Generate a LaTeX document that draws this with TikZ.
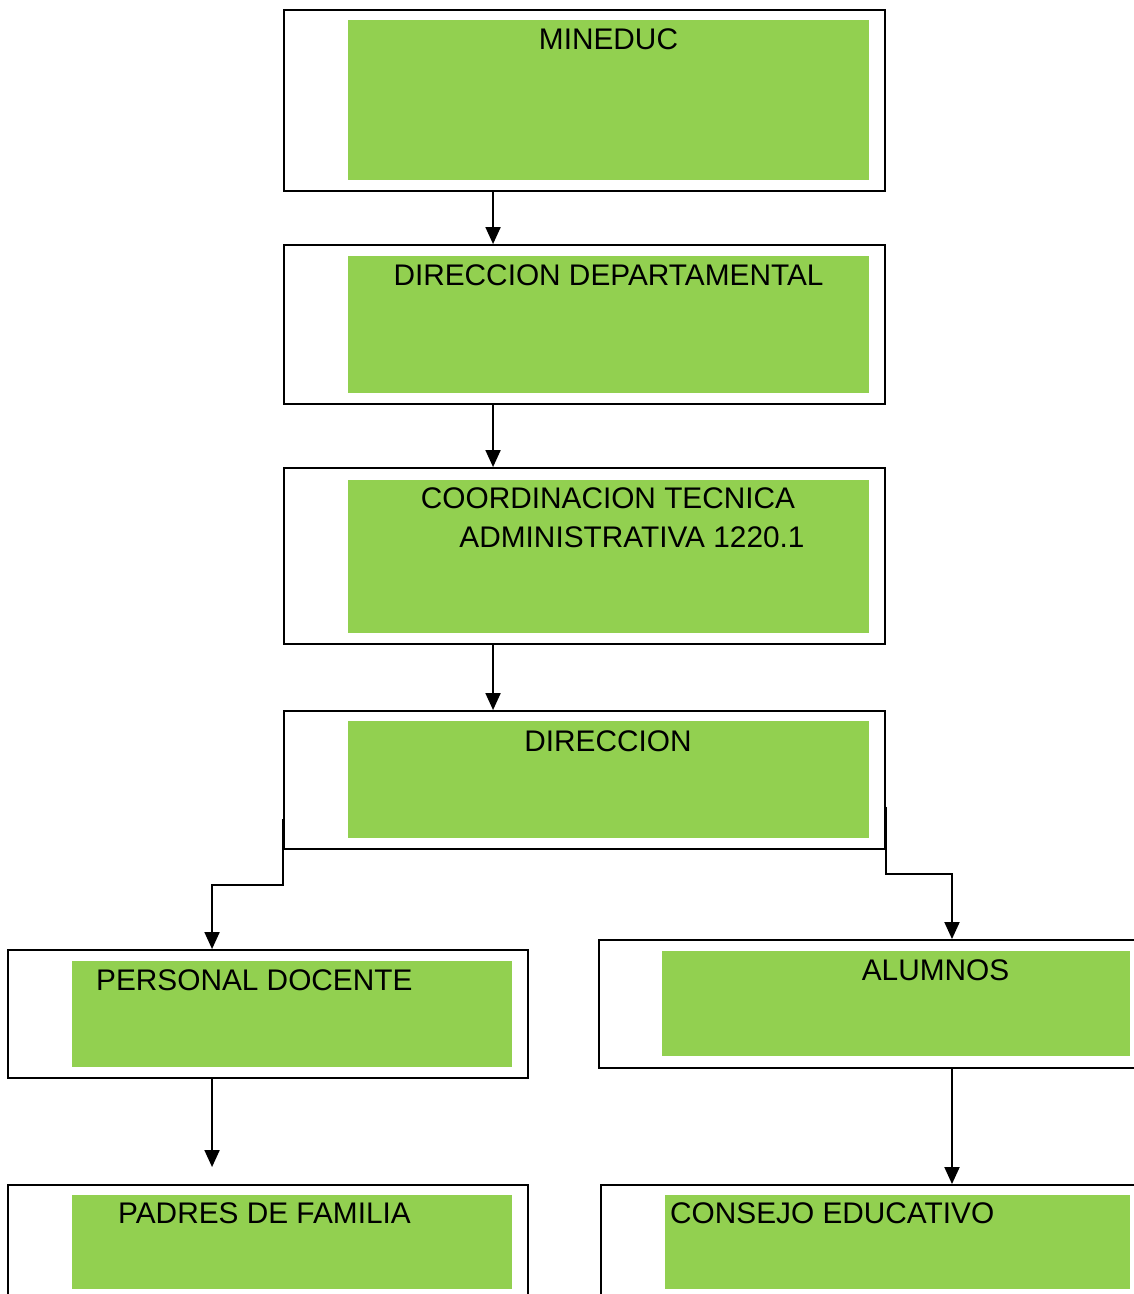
\documentclass[tikz,border=0pt]{standalone}
\usepackage{fontspec}
\setmainfont{Liberation Sans}
\usetikzlibrary{arrows.meta,calc}
\definecolor{grn}{RGB}{146,208,80}
\tikzset{
  obox/.style={draw=black, line width=1.9pt, rectangle, inner sep=0pt, fill=white},
  gbox/.style={fill=grn, rectangle, inner sep=0pt, draw=none},
  lbl/.style={inner sep=0pt, font=\fontsize{29.8}{35}\selectfont},
  conn/.style={line width=1.9pt},
  arr/.style={line width=1.9pt, -{Triangle[length=17pt,width=15pt]}}
}
\begin{document}
\begin{tikzpicture}[x=1pt,y=-1pt]
\useasboundingbox (0,0) rectangle (1134,1294);
\clip (0,0) rectangle (1134,1294);
% outer boxes
\node[obox, minimum width=601pt, minimum height=181pt] (b1) at (584.5,100.5) {};
\node[obox, minimum width=601pt, minimum height=159pt] (b2) at (584.5,324.5) {};
\node[obox, minimum width=601pt, minimum height=176pt] (b3) at (584.5,556) {};
\node[obox, minimum width=601pt, minimum height=138pt] (b4) at (584.5,780) {};
\node[obox, minimum width=520pt, minimum height=128pt] (b5) at (268,1014) {};
\node[obox, minimum width=706pt, minimum height=128pt] (b6) at (952,1004) {};
\node[obox, minimum width=520pt, minimum height=160pt] (b7) at (268,1265) {};
\node[obox, minimum width=702pt, minimum height=160pt] (b8) at (952,1265) {};
% green panels
\node[gbox, minimum width=521pt, minimum height=160pt] (g1) at (608.5,100) {};
\node[gbox, minimum width=521pt, minimum height=137pt] (g2) at (608.5,324.5) {};
\node[gbox, minimum width=521pt, minimum height=153pt] (g3) at (608.5,556.5) {};
\node[gbox, minimum width=521pt, minimum height=117pt] (g4) at (608.5,779.5) {};
\node[gbox, minimum width=440pt, minimum height=106pt] (g5) at (292,1014) {};
\node[gbox, minimum width=468pt, minimum height=105pt] (g6) at (896,1003.5) {};
\node[gbox, minimum width=440pt, minimum height=94pt] (g7) at (292,1242) {};
\node[gbox, minimum width=465pt, minimum height=94pt] (g8) at (897.5,1242) {};
% labels
\node[lbl, anchor=base] (t1) at (608.5,49) {MINEDUC};
\node[lbl, anchor=base] (t2) at (608.5,285) {DIRECCION DEPARTAMENTAL};
\node[lbl, anchor=base] (t3a) at (608,508) {COORDINACION TECNICA};
\node[lbl, anchor=base] (t3b) at (632,547) {ADMINISTRATIVA 1220.1};
\node[lbl, anchor=base] (t4) at (608,751) {DIRECCION};
\node[lbl, anchor=base west] (t5) at (96,990) {PERSONAL DOCENTE};
\node[lbl, anchor=base] (t6) at (935.5,980) {ALUMNOS};
\node[lbl, anchor=base west] (t7) at (118,1223) {PADRES DE FAMILIA};
\node[lbl, anchor=base west] (t8) at (670,1223) {CONSEJO EDUCATIVO};
% connectors
\draw[arr] ($(b1.south west)+(210,0)$) -- ($(b2.north west)+(210,0)$);
\draw[arr] ($(b2.south west)+(210,0)$) -- ($(b3.north west)+(210,0)$);
\draw[arr] ($(b3.south west)+(210,0)$) -- ($(b4.north west)+(210,0)$);
\draw[arr] ($(b4.south west)+(0,-31)$) -- ++(0,66) -| ($(b5.north west)+(205,0)$);
\draw[arr] ($(b4.south east)+(0,-43)$) -- ++(0,67) -| (b6.north);
\draw[arr] ($(b5.south west)+(205,0)$) -- ($(b7.north west)+(205,-17)$);
\draw[arr] (b6.south) -- (b8.north);
\end{tikzpicture}
\end{document}
